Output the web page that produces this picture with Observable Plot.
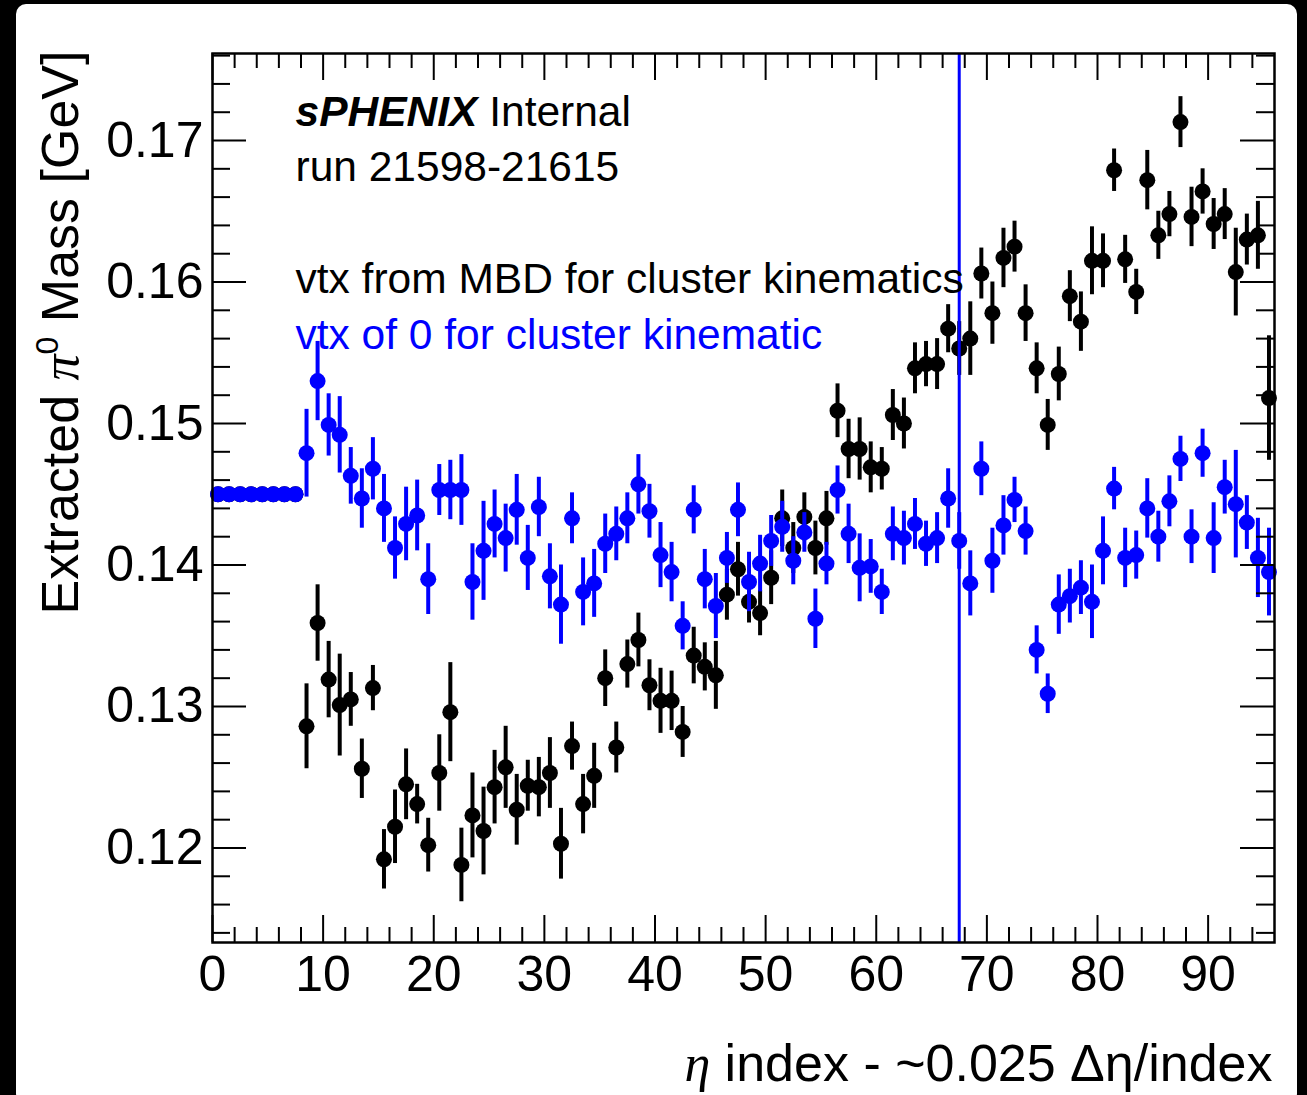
<!DOCTYPE html>
<html>
<head>
<meta charset="utf-8">
<script src="https://cdn.jsdelivr.net/npm/d3@7"></script>
<script src="https://cdn.jsdelivr.net/npm/@observablehq/plot@0.6"></script>
<style>
  html, body { margin: 0; padding: 0; background: #000; width: 1307px; height: 1095px; overflow: hidden; }
  #paper { position: absolute; left: 16px; top: 4px; width: 1281px; height: 1100px; background: #fff; border-radius: 10px; }
  #chart { position: absolute; left: 0; top: 0; }
</style>
</head>
<body>
<div id="paper"></div>
<div id="chart"></div>
<script>
// ---- data ----
const etaIndex = [0,1,2,3,4,5,6,7,8,9,10,11,12,13,14,15,16,17,18,19,20,21,22,23,24,25,26,27,28,29,30,31,32,33,34,35,36,37,38,39,40,41,42,43,44,45,46,47,48,49,50,51,52,53,54,55,56,57,58,59,60,61,62,63,64,65,66,67,68,69,70,71,72,73,74,75,76,77,78,79,80,81,82,83,84,85,86,87,88,89,90,91,92,93,94,95];

// vtx from MBD for cluster kinematics (black)
const mbdMass = [0.145,0.145,0.145,0.145,0.145,0.145,0.145,0.145,
  0.1286,0.1359,0.1319,0.1301,0.1305,0.1256,0.1313,0.1192,0.1215,0.1245,0.1231,0.1202,
  0.1253,0.1296,0.1188,0.1223,0.1212,0.1243,0.1257,0.1227,0.1244,0.1243,
  0.1253,0.1203,0.1272,0.1231,0.1251,0.1320,0.1271,0.1330,0.1347,0.1315,
  0.1304,0.1304,0.1282,0.1336,0.1328,0.1322,0.1379,0.1397,0.1374,0.1366,
  0.1391,0.1433,0.1412,0.1434,0.1412,0.1433,0.1509,0.1482,0.1482,0.1469,
  0.1468,0.1506,0.1500,0.1539,0.1542,0.1542,0.1567,0.1553,0.1560,0.1606,
  0.1578,0.1617,0.1625,0.1578,0.1539,0.1499,0.1535,0.1590,0.1572,0.1615,
  0.1615,0.1679,0.1616,0.1593,0.1672,0.1633,0.1648,0.1713,0.1646,0.1664,
  0.1641,0.1648,0.1607,0.1630,0.1633,0.1518];
const mbdErr = [0,0,0,0,0,0,0,0,
  0.0030,0.0027,0.0027,0.0036,0.0019,0.0021,0.0016,0.0021,0.0026,0.0025,0.0014,0.0019,
  0.0027,0.0035,0.0026,0.0030,0.0031,0.0026,0.0029,0.0025,0.0018,0.0021,
  0.0025,0.0025,0.0017,0.0021,0.0023,0.0020,0.0018,0.0017,0.0019,0.0018,
  0.0023,0.0021,0.0018,0.0020,0.0017,0.0024,0.0018,0.0019,0.0015,0.0016,
  0.0019,0.0020,0.0018,0.0017,0.0019,0.0019,0.0019,0.0021,0.0022,0.0018,
  0.0015,0.0018,0.0018,0.0018,0.0016,0.0018,0.0017,0.0019,0.0026,0.0018,
  0.0022,0.0021,0.0018,0.0020,0.0018,0.0018,0.0019,0.0018,0.0021,0.0024,
  0.0019,0.0015,0.0017,0.0016,0.0021,0.0017,0.0016,0.0018,0.0021,0.0016,
  0.0018,0.0018,0.0031,0.0018,0.0024,0.0044];

// vtx of 0 for cluster kinematic (blue)
const zeroMass = [0.145,0.145,0.145,0.145,0.145,0.145,0.145,0.145,
  0.1479,0.1530,0.1499,0.1492,0.1463,0.1447,0.1468,0.1440,0.1412,0.1429,0.1435,0.1390,
  0.1453,0.1453,0.1453,0.1388,0.1410,0.1429,0.1419,0.1439,0.1405,0.1441,
  0.1392,0.1372,0.1433,0.1381,0.1387,0.1415,0.1422,0.1433,0.1457,0.1438,
  0.1407,0.1395,0.1357,0.1439,0.1390,0.1371,0.1405,0.1439,0.1388,0.1401,
  0.1417,0.1427,0.1403,0.1423,0.1362,0.1401,0.1453,0.1422,0.1398,0.1399,
  0.1381,0.1422,0.1419,0.1429,0.1415,0.1419,0.1447,0.1417,0.1387,0.1468,
  0.1403,0.1428,0.1446,0.1424,0.1340,0.1309,0.1372,0.1378,0.1384,0.1374,
  0.1410,0.1454,0.1405,0.1407,0.1440,0.1420,0.1445,0.1475,0.1420,0.1479,
  0.1419,0.1455,0.1443,0.1430,0.1405,0.1395];
const zeroErr = [0,0,0,0,0,0,0,0,
  0.0031,0.0028,0.0022,0.0027,0.0020,0.0021,0.0022,0.0024,0.0022,0.0026,0.0025,0.0025,
  0.0018,0.0021,0.0025,0.0027,0.0035,0.0024,0.0024,0.0025,0.0023,0.0021,
  0.0023,0.0028,0.0018,0.0024,0.0024,0.0021,0.0019,0.0018,0.0021,0.0019,
  0.0023,0.0021,0.0017,0.0017,0.0021,0.0023,0.0018,0.0019,0.0021,0.0020,
  0.0018,0.0018,0.0017,0.0014,0.0021,0.0015,0.0017,0.0021,0.0024,0.0019,
  0.0016,0.0019,0.0019,0.0018,0.0016,0.0018,0.0021,0.0020,0.0023,0.0019,
  0.0023,0.0021,0.0016,0.0017,0.0017,0.0014,0.0021,0.0019,0.0019,0.0026,
  0.0024,0.0015,0.0021,0.0017,0.0021,0.0018,0.0018,0.0016,0.0019,0.0017,
  0.0025,0.0019,0.0038,0.0019,0.0028,0.0031];

const markerEta = 67.5;                       // vertical blue line
const xTickLabels = [0,10,20,30,40,50,60,70,80,90];
const yTickLabels = [0.12,0.13,0.14,0.15,0.16,0.17];
const xMinorTicks = [2,4,6,8,12,14,16,18,22,24,26,28,32,34,36,38,42,44,46,48,52,54,56,58,62,64,66,68,72,74,76,78,82,84,86,88,92,94];
const yMinorTicks = [0.114,0.116,0.118,0.122,0.124,0.126,0.128,0.132,0.134,0.136,0.138,0.142,0.144,0.146,0.148,0.152,0.154,0.156,0.158,0.162,0.164,0.166,0.168,0.172,0.174,0.176];

const labelTop = ["sPHENIX Internal", "run 21598-21615"];
const legendMbd = "vtx from MBD for cluster kinematics";
const legendZero = "vtx of 0 for cluster kinematic";
const xTitle = "η index - ~0.025 Δη/index";
const yTitle = "Extracted π0 Mass [GeV]";

// ---- table ----
const rows = etaIndex.map((i, k) => ({
  eta: i + 0.5, lo: i, hi: i + 1,
  mbd: mbdMass[k], mbdE: mbdErr[k],
  zero: zeroMass[k], zeroE: zeroErr[k]
}));

const W = 1307, Ht = 1095, mL = 212, mR = 33, mT = 53, mB = 153;
const FW = W - mL - mR, FH = Ht - mT - mB;
const BLUE = "#0000ff";
const font = "'Liberation Sans', Arial, Helvetica, sans-serif";

const plot = Plot.plot({
  width: W, height: Ht,
  marginLeft: mL, marginRight: mR, marginTop: mT, marginBottom: mB,
  style: {background: "transparent", fontFamily: font, fontSize: "50px", color: "#000", overflow: "visible"},
  x: {domain: [0, 96]},
  y: {domain: [0.11332, 0.17615]},
  marks: [
    // black series
    Plot.ruleX(rows.filter(d => d.mbdE > 0), {x: "eta", y1: d => d.mbd - d.mbdE, y2: d => d.mbd + d.mbdE, stroke: "#000", strokeWidth: 4}),
    Plot.ruleY(rows, {y: "mbd", x1: "lo", x2: "hi", stroke: "#000", strokeWidth: 2.5}),
    Plot.dot(rows, {x: "eta", y: "mbd", r: 8, fill: "#000"}),
    // blue series
    Plot.ruleX(rows.filter(d => d.zeroE > 0), {x: "eta", y1: d => d.zero - d.zeroE, y2: d => d.zero + d.zeroE, stroke: BLUE, strokeWidth: 4}),
    Plot.ruleY(rows, {y: "zero", x1: "lo", x2: "hi", stroke: BLUE, strokeWidth: 2.5}),
    Plot.dot(rows, {x: "eta", y: "zero", r: 8, fill: BLUE}),
    // vertical marker line
    Plot.ruleX([markerEta], {x: d => d, stroke: BLUE, strokeWidth: 3}),
    // inward ticks
    Plot.ruleX(xTickLabels, {x: d => d, insetTop: FH - 27, stroke: "#000", strokeWidth: 2}),
    Plot.ruleX(xTickLabels, {x: d => d, insetBottom: FH - 27, stroke: "#000", strokeWidth: 2}),
    Plot.ruleX(xMinorTicks, {x: d => d, insetTop: FH - 15, stroke: "#000", strokeWidth: 2}),
    Plot.ruleX(xMinorTicks, {x: d => d, insetBottom: FH - 15, stroke: "#000", strokeWidth: 2}),
    Plot.ruleY(yTickLabels, {y: d => d, insetRight: FW - 34, stroke: "#000", strokeWidth: 2}),
    Plot.ruleY(yTickLabels, {y: d => d, insetLeft: FW - 34, stroke: "#000", strokeWidth: 2}),
    Plot.ruleY(yMinorTicks, {y: d => d, insetRight: FW - 18, stroke: "#000", strokeWidth: 2}),
    Plot.ruleY(yMinorTicks, {y: d => d, insetLeft: FW - 18, stroke: "#000", strokeWidth: 2}),
    Plot.frame({stroke: "#000", strokeWidth: 2.5}),
    // tick labels
    Plot.axisX({ticks: xTickLabels, tickSize: 0, tickPadding: 13, label: null, tickFormat: d3.format("d")}),
    Plot.axisY({ticks: yTickLabels, tickSize: 0, tickPadding: 9, label: null, tickFormat: d3.format(".2f")}),
    // annotations
    Plot.text([labelTop[0]], {text: d => d, frameAnchor: "top-left", dx: 83, dy: 72, lineAnchor: "bottom", textAnchor: "start", fontSize: 42.5, fill: "#000"}),
    Plot.text([labelTop[1]], {text: d => d, frameAnchor: "top-left", dx: 83, dy: 127, lineAnchor: "bottom", textAnchor: "start", fontSize: 42.5, fill: "#000"}),
    Plot.text([legendMbd], {text: d => d, frameAnchor: "top-left", dx: 83, dy: 239, lineAnchor: "bottom", textAnchor: "start", fontSize: 42.5, fill: "#000"}),
    Plot.text([legendZero], {text: d => d, frameAnchor: "top-left", dx: 83, dy: 295, lineAnchor: "bottom", textAnchor: "start", fontSize: 42.5, fill: BLUE}),
    // axis titles
    Plot.text([xTitle], {text: d => d, frameAnchor: "bottom-right", dx: -2, dy: 138, lineAnchor: "bottom", textAnchor: "end", fontSize: 52, fill: "#000"}),
    Plot.text([yTitle], {text: d => d, frameAnchor: "top-left", dx: -135, dy: -3, rotate: -90, lineAnchor: "bottom", textAnchor: "end", fontSize: 52, fill: "#000"})
  ]
});

document.getElementById("chart").appendChild(plot);

// rich-text styling of a few labels (keeps them as real text)
function restyle(match, parts) {
  d3.select(plot).selectAll("text").filter(function () { return this.textContent === match; })
    .each(function () {
      const t = d3.select(this);
      t.text(null);
      for (const p of parts) {
        const s = t.append("tspan").text(p.text);
        for (const [k, v] of Object.entries(p.attr || {})) s.attr(k, v);
      }
    });
}
restyle(labelTop[0], [
  {text: "sPHENIX", attr: {"font-weight": "bold", "font-style": "italic"}},
  {text: " Internal"}
]);
restyle(yTitle, [
  {text: "Extracted "},
  {text: "π", attr: {"font-family": "'Liberation Serif', 'DejaVu Serif', serif", "font-style": "italic"}},
  {text: "0", attr: {"font-size": "32px", "dy": "-20"}},
  {text: " Mass [GeV]", attr: {"dy": "20"}}
]);
restyle(xTitle, [
  {text: "η", attr: {"font-family": "'Liberation Serif', 'DejaVu Serif', serif", "font-style": "italic"}},
  {text: " index - ~0.025 Δη/index"}
]);
</script>
</body>
</html>
